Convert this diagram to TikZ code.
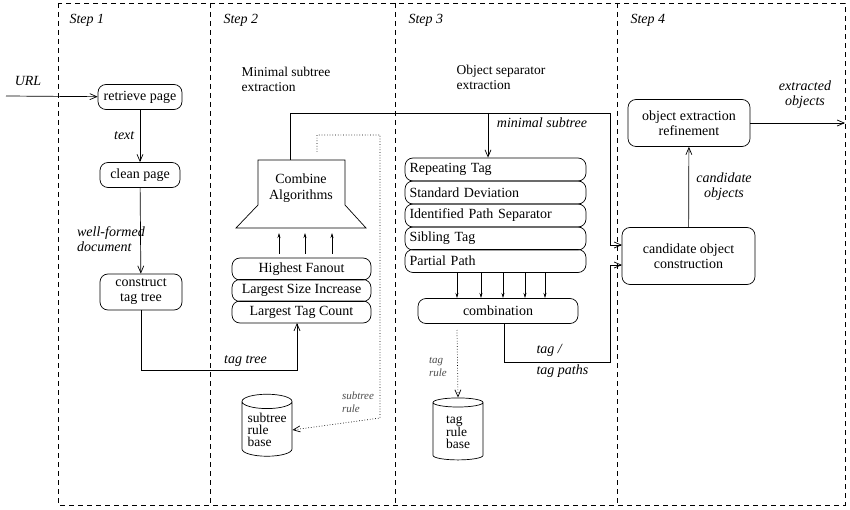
\documentclass[tikz,border=0pt]{standalone}
\usepackage{fontspec}
\setmainfont{Liberation Serif}
\usetikzlibrary{arrows.meta,shapes.geometric}
\begin{document}
\begin{tikzpicture}[x=1pt,y=-1pt,
  ar/.style={-{Straight Barb[length=7pt,width=6pt]},line width=0.7pt},
  box/.style={draw,rounded corners=8pt,line width=0.7pt,align=center,font=\fontsize{14}{15}\selectfont,inner sep=0pt},
  lab/.style={font=\itshape\fontsize{14}{15}\selectfont,align=left},
  small/.style={font=\itshape\fontsize{11}{13}\selectfont,text=black!70,align=left},
  cyl/.style={draw,cylinder,shape border rotate=90,aspect=0.35,minimum width=50pt,minimum height=62pt,line width=0.7pt,align=left,font=\fontsize{13.5}{12}\selectfont,inner sep=1pt},
  dl/.style={dash pattern=on 5pt off 4pt,line width=0.6pt}]
\useasboundingbox (0,0) rectangle (850,510);
\draw[dl] (58,3) rectangle (845,505);
\foreach \x in {210,395,617} \draw[dl] (\x,3) -- (\x,505);
\node[lab,anchor=west] (s1) at (66,20) {Step 1};
\node[lab,anchor=west] (s2) at (220,20) {Step 2};
\node[lab,anchor=west] (s3) at (405,20) {Step 3};
\node[lab,anchor=west] (s4) at (627,20) {Step 4};
\node[font=\fontsize{13.5}{15}\selectfont,align=left,anchor=west] (t2) at (238,79) {Minimal subtree\\extraction};
\node[font=\fontsize{13.5}{15}\selectfont,align=left,anchor=west] (t3) at (453,77) {Object separator\\extraction};
% step 1
\coordinate (urlin) at (6,96);
\node[lab] (url) at (28,81) {URL};
\node[box,minimum width=84pt,minimum height=25pt] (rp) at (140,97) {retrieve page};
\node[box,minimum width=80pt,minimum height=25pt] (cp) at (140,175) {clean page};
\node[box,minimum width=82pt,minimum height=36pt] (ct) at (141,292) {construct\\tag tree};
\draw[ar] (urlin) -- (rp);
\draw[ar] (rp) -- (cp) node[lab,midway,left=2pt] {text};
\draw[ar] (cp) -- (ct) node[lab,midway,left=-8pt,yshift=-8pt,align=left] {well-formed\\document};
% step 2
\node[box,minimum width=139pt,minimum height=22pt] (hf) at (301.5,269) {Highest Fanout};
\node[box,minimum width=139pt,minimum height=22pt] (ls) at (301.5,290.5) {Largest Size Increase};
\node[box,minimum width=139pt,minimum height=22pt] (lt) at (301.5,312) {Largest Tag Count};
\draw[line width=0.7pt] (258,160) -- (345,160) -- (345,205) -- (366,228) -- (236,228) -- (258,205) -- cycle;
\node[font=\fontsize{14}{16}\selectfont,align=center] (ca) at (301,188) {Combine\\Algorithms};
\foreach \x in {279,305,332} \draw[-{Stealth[length=5pt,width=3pt]},line width=0.6pt] (\x,254) -- (\x,233);
\draw[ar] (ct.south) -- (141,370) -- (297,370) node[lab,pos=0.67,above] {tag tree} -- (297,323);
\node[cyl] (srb) at (267,430) {subtree\\rule\\base};
\draw[ar,dotted] (317,152) -- (317,135) -- (380,135) -- (380,418) -- (srb.east);
\node[small] (srl) at (358,402) {subtree\\rule};
% step 3
\foreach \n/\t/\y in {a/Repeating Tag/169.5,b/Standard Deviation/192.5,c/Identified Path Separator/215.5,d/Sibling Tag/238.5,e/Partial Path/261}
  \node[box,minimum width=181pt,minimum height=23pt,text width=172pt,align=left] (\n) at (495.5,\y) {\t};
\node[box,minimum width=160pt,minimum height=25pt] (cb) at (498,311) {combination};
\foreach \x in {457,481,503,525,545} \draw[-{Stealth[length=5pt,width=3pt]},line width=0.6pt] (\x,273) -- (\x,298);
\node[cyl] (trb) at (458,432) {tag\\rule\\base};
\draw[ar,dotted] (457,330) -- (trb.north);
\node[small] (trl) at (438,367) {tag\\rule};
% step 4
\node[box,minimum width=133pt,minimum height=57pt] (cc) at (688.5,256) {candidate object\\construction};
\node[box,minimum width=122pt,minimum height=47pt] (oe) at (689,123) {object extraction\\refinement};
\draw[ar] (cc) -- (oe) node[lab,midway,right=4pt,align=center] {candidate\\objects};
\coordinate (out) at (845,123);
\draw[ar] (oe) -- (out);
\node[lab,align=center] (eo) at (805,95) {extracted\\objects};
% cross connectors
\draw[ar] (290,160) -- (290,113) -- (610,113) -- (610,245) -- (622,245);
\draw[ar] (488,113) -- (a.north -| 488,0);
\node[lab] (ms) at (542,123) {minimal subtree};
\draw[ar] (504,323.5) -- (504,362) -- (610,362) -- (610,265) -- (622,265);
\node[lab,anchor=west] (tp1) at (533,350) {tag /};
\node[lab,anchor=west] (tp2) at (533,371) {tag paths};
\end{tikzpicture}
\end{document}
